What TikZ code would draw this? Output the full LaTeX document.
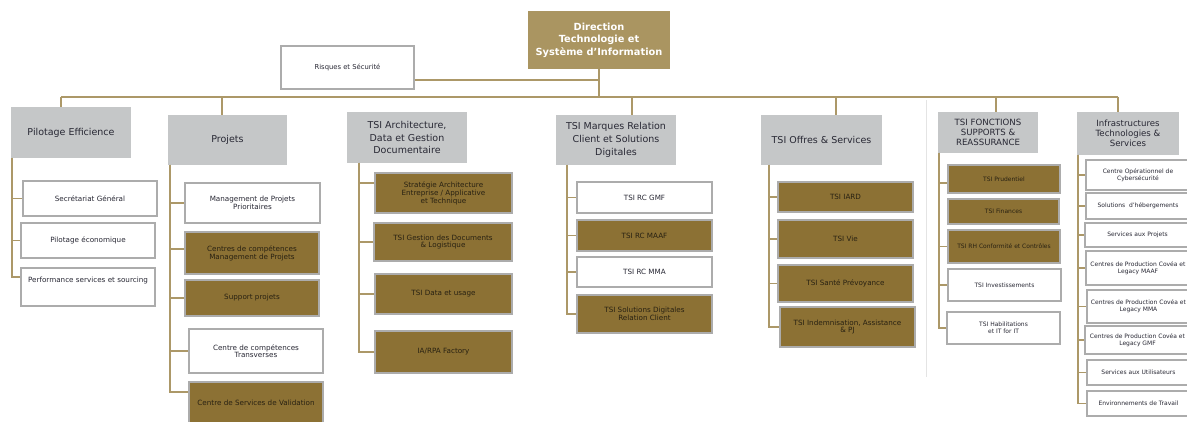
\documentclass[tikz,border=0pt]{standalone}
\usepackage{fontspec}
\setmainfont{DejaVu Sans}
\definecolor{topgold}{RGB}{170,149,97}
\definecolor{boxgold}{RGB}{140,113,52}
\definecolor{hdrgray}{RGB}{197,199,200}
\definecolor{edgegray}{RGB}{172,172,172}
\definecolor{linkgold}{RGB}{172,152,104}
\definecolor{inktext}{RGB}{40,40,52}
\definecolor{goldtext}{RGB}{40,33,18}
\definecolor{sepgray}{RGB}{228,228,228}

\tikzset{
  base/.style={inner sep=1pt, align=center},
  dirbox/.style={base, fill=topgold, text=white,
    font=\fontsize{9.8}{12.5}\selectfont\bfseries},
  hdr/.style={base, fill=hdrgray, text=inktext,
    font=\fontsize{9.5}{12.8}\selectfont},
  hdrsmall/.style={hdr, font=\fontsize{8.6}{10}\selectfont},
  wbox/.style={base, fill=white, draw=edgegray, line width=1.1pt, text=inktext,
    font=\fontsize{7.2}{6.8}\selectfont},
  gbox/.style={base, fill=boxgold, draw=edgegray, line width=1.1pt, text=goldtext,
    font=\fontsize{7.2}{6.8}\selectfont},
  small/.style={font=\fontsize{6}{7}\selectfont},
  link/.style={draw=linkgold, line width=1.3pt},
}

% box from corner (x1,y1) to corner (x2,y2)
\newcommand\orgnode[7]{%
  \node[#1, minimum width={#5-#3}, minimum height={#6-#4}]
    (#2) at ({(#3+#5)/2},{(#4+#6)/2}) {#7};}

\begin{document}
\begin{tikzpicture}[x=1pt,y=-1pt]
\useasboundingbox (0,0) rectangle (1187,422);
\clip (0,0) rectangle (1187,422);

% faint column separator
\draw[sepgray, line width=0.8pt] (926,100) -- (926,377);

% top of the tree
\orgnode{dirbox}{dir}{528}{11}{670}{69}{Direction\\Technologie et\\Système d’Information}
\orgnode{wbox,font=\fontsize{6.8}{7}\selectfont}{risk}{281}{46}{414}{89}{Risques et Sécurité}

% headers
\orgnode{hdr}{pil}{11}{107}{131}{158}{Pilotage Efficience}
\orgnode{hdr}{proj}{168}{115}{287}{165}{Projets}
\orgnode{hdr}{arch}{347}{112}{467}{163}{TSI Architecture,\\Data et Gestion\\Documentaire}
\orgnode{hdr}{marq}{556}{115}{676}{165}{TSI Marques Relation\\Client et Solutions\\Digitales}
\orgnode{hdr}{offr}{761}{115}{882}{165}{TSI Offres \& Services}
\orgnode{hdrsmall}{fonc}{938}{112}{1038}{153}{TSI FONCTIONS\\SUPPORTS \&\\REASSURANCE}
\orgnode{hdrsmall}{infr}{1077}{112}{1179}{155}{Infrastructures\\Technologies \&\\Services}

% links from the direction
\coordinate (b1) at (61,97);
\coordinate (b2) at (222,97);
\coordinate (b3) at (632,97);
\coordinate (b4) at (836,97);
\coordinate (b5) at (996,97);
\coordinate (b6) at (1118,97);
\draw[link] ([yshift=-12.5pt]risk.east) -| (dir.south);
\draw[link] (dir.south) -- (dir.south |- b1);
\draw[link] (b1) -- (b6);
\draw[link] (b1) -- (b1 |- pil.north);
\draw[link] (b2) -- (b2 |- proj.north);
\draw[link] (b3) -- (b3 |- marq.north);
\draw[link] (b4) -- (b4 |- offr.north);
\draw[link] (b5) -- (b5 |- fonc.north);
\draw[link] (b6) -- (b6 |- infr.north);

% Pilotage Efficience
\orgnode{wbox}{p1}{23}{181}{157}{216}{Secrétariat Général}
\orgnode{wbox}{p2}{21}{223}{155}{258}{Pilotage économique}
\orgnode{wbox}{p3}{21}{268}{155}{306}{Performance services et sourcing\\[8pt]}
\coordinate (ps) at (12,158);
\draw[link] (ps) |- (p1.west);
\draw[link] (ps) |- (p2.west);
\draw[link] (ps) |- ([yshift=10pt]p3.west);

% Projets
\orgnode{wbox}{q1}{185}{183}{320}{223}{Management de Projets\\Prioritaires}
\orgnode{gbox}{q2}{185}{232}{319}{274}{Centres de compétences\\Management de Projets}
\orgnode{gbox}{q3}{185}{280}{319}{316}{Support projets}
\orgnode{wbox}{q4}{189}{329}{323}{373}{Centre de compétences\\Transverses}
\orgnode{gbox}{q5}{189}{382}{323}{424}{Centre de Services de Validation}
\coordinate (qs) at (170,165);
\draw[link] (qs) |- (q1.west);
\draw[link] (qs) |- ([yshift=4pt]q2.west);
\draw[link] (qs) |- (q3.west);
\draw[link] (qs) |- (q4.west);
\draw[link] (qs) |- ([yshift=11pt]q5.west);

% TSI Architecture
\orgnode{gbox}{a1}{375}{173}{512}{213}{Stratégie Architecture\\Entreprise / Applicative\\et Technique}
\orgnode{gbox}{a2}{374}{223}{512}{261}{TSI Gestion des Documents\\\& Logistique}
\orgnode{gbox}{a3}{375}{274}{512}{314}{TSI Data et usage}
\orgnode{gbox}{a4}{375}{331}{512}{373}{IA/RPA Factory}
\coordinate (as) at (359,163);
\draw[link] (as) |- ([yshift=10pt]a1.west);
\draw[link] (as) |- (a2.west);
\draw[link] (as) |- (a3.west);
\draw[link] (as) |- (a4.west);

% TSI Marques
\orgnode{wbox}{m1}{577}{182}{712}{213}{TSI RC GMF}
\orgnode{gbox}{m2}{577}{220}{712}{251}{TSI RC MAAF}
\orgnode{wbox}{m3}{577}{257}{712}{287}{TSI RC MMA}
\orgnode{gbox}{m4}{577}{295}{712}{333}{TSI Solutions Digitales\\Relation Client}
\coordinate (ms) at (567,165);
\draw[link] (ms) |- (m1.west);
\draw[link] (ms) |- (m2.west);
\draw[link] (ms) |- (m3.west);
\draw[link] (ms) |- (m4.west);

% TSI Offres
\orgnode{gbox}{o1}{778}{182}{913}{212}{TSI IARD}
\orgnode{gbox}{o2}{778}{220}{913}{258}{TSI Vie}
\orgnode{gbox}{o3}{778}{265}{913}{302}{TSI Santé Prévoyance}
\orgnode{gbox}{o4}{780}{307}{915}{347}{TSI Indemnisation, Assistance\\\& PJ}
\coordinate (os) at (769,165);
\draw[link] (os) |- (o1.west);
\draw[link] (os) |- (o2.west);
\draw[link] (os) |- (o3.west);
\draw[link] (os) |- (o4.west);

% TSI Fonctions supports
\orgnode{gbox,small}{f1}{948}{165}{1060}{193}{TSI Prudentiel}
\orgnode{gbox,small}{f2}{948}{199}{1059}{224}{TSI Finances}
\orgnode{gbox,small}{f3}{948}{230}{1060}{263}{TSI RH Conformité et Contrôles}
\orgnode{wbox,small}{f4}{948}{269}{1061}{301}{TSI Investissements}
\orgnode{wbox,small}{f5}{947}{312}{1060}{344}{TSI Habilitations\\et IT for IT}
\coordinate (fs) at (939,153);
\draw[link] (fs) |- ([yshift=-4pt]f1.west);
\draw[link] (fs) |- (f3.west);
\draw[link] (fs) |- (f4.west);
\draw[link] (fs) |- (f5.west);

% Infrastructures
\orgnode{wbox,small}{i1}{1086}{160}{1190}{190}{Centre Opérationnel de\\Cybersécurité}
\orgnode{wbox,small}{i2}{1086}{193}{1190}{219}{Solutions~ d’hébergements}
\orgnode{wbox,small}{i3}{1085}{223}{1190}{247}{Services aux Projets}
\orgnode{wbox,small}{i4}{1086}{251}{1190}{285}{Centres de Production Covéa et\\Legacy MAAF}
\orgnode{wbox,small}{i5}{1087}{290}{1190}{323}{Centres de Production Covéa et\\Legacy MMA}
\orgnode{wbox,small}{i6}{1085}{326}{1190}{354}{Centres de Production Covéa et\\Legacy GMF}
\orgnode{wbox,small}{i7}{1087}{360}{1190}{385}{Services aux Utilisateurs}
\orgnode{wbox,small}{i8}{1087}{391}{1190}{416}{Environnements de Travail}
\coordinate (is) at (1078,155);
\foreach \k in {1,...,8} {\draw[link] (is) |- (i\k.west);}
\end{tikzpicture}
\end{document}
